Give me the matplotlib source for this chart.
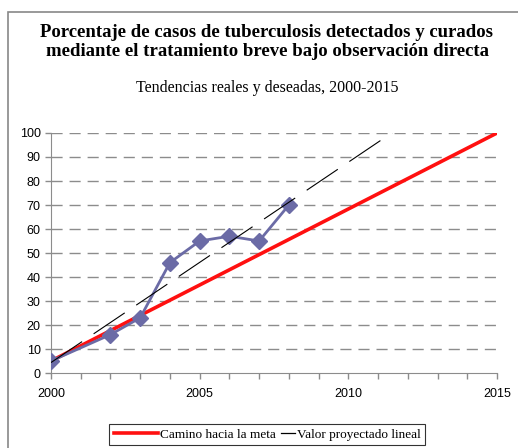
import numpy as np
import matplotlib.pyplot as plt
from matplotlib.patches import Rectangle
from matplotlib.ticker import MultipleLocator
from matplotlib.legend_handler import HandlerLine2D

plt.rcParams['lines.scale_dashes'] = False

years = [2000, 2002, 2003, 2004, 2005, 2006, 2007, 2008]
detected = [5, 16, 23, 46, 55, 57, 55, 70]
goal_years = [2000, 2015]
goal = [5, 100]

# linear projection fitted to the observed values
slope, icpt = np.polyfit(years, detected, 1)
proj_x = np.array([2000, 2015])
proj_y = slope * proj_x + icpt


class ShortLine(HandlerLine2D):
    # short legend sample, right-aligned in the handle box
    def create_artists(self, legend, orig_handle, xdescent, ydescent, width, height, fontsize, trans):
        short = width * 0.33
        return super().create_artists(legend, orig_handle, xdescent - (width - short), ydescent,
                                      short, height, fontsize, trans)


fig = plt.figure(figsize=(5.18, 4.48), dpi=100)
fig.patches.append(Rectangle((8 / 518, -0.1), 1.2, 1 - 12 / 448 + 0.1, transform=fig.transFigure,
                             fill=False, edgecolor='#888888', linewidth=1.2))

ax = fig.add_axes([51 / 518, 1 - 373 / 448, 446 / 518, 240 / 448])

for v in range(10, 101, 10):
    ax.axhline(v, color='#8c8c8c', linewidth=1.0, dashes=(8, 5), zorder=1)

ax.plot(goal_years, goal, color='#ff1010', linewidth=2.6, zorder=2)
ax.plot(years, detected, color='#6b6ba6', linewidth=2, marker='D', markersize=8.5, zorder=3)
ax.plot(proj_x, proj_y, color='black', linewidth=0.8, dashes=(27, 10), zorder=4)

ax.set_xlim(2000, 2015)
ax.set_ylim(0, 100)
ax.set_xticks([2000, 2005, 2010, 2015])
ax.xaxis.set_minor_locator(MultipleLocator(1))
ax.set_yticks(range(0, 101, 10))
for s in ['top', 'right']:
    ax.spines[s].set_visible(False)
for s in ['left', 'bottom']:
    ax.spines[s].set_color('#8c8c8c')
ax.tick_params(axis='both', which='both', color='#8c8c8c', labelsize=9,
               labelcolor='black', length=4, width=1)
ax.tick_params(axis='x', which='major', pad=7)
for lab in ax.get_xticklabels() + ax.get_yticklabels():
    lab.set_family('Liberation Sans')

fig.text(267 / 518, 1 - 42 / 448, 'Porcentaje de casos de tuberculosis detectados y curados\n'
         'mediante el tratamiento breve bajo observación directa',
         ha='center', va='center', family='Liberation Serif', fontweight='bold',
         fontsize=13.5, linespacing=1.15)
fig.text(267 / 518, 1 - 88 / 448, 'Tendencias reales y deseadas, 2000-2015',
         ha='center', va='center', family='Liberation Serif', fontsize=11.5)

red_h = plt.Line2D([], [], color='#ff1010', linewidth=2.6)
black_h = plt.Line2D([], [], color='black', linewidth=0.9)
leg = fig.legend([red_h, black_h], ['Camino hacia la meta', 'Valor proyectado lineal'],
                 loc='upper center', bbox_to_anchor=(267 / 518, 1 - 424 / 448), ncol=2,
                 frameon=True, fancybox=False, edgecolor='black', handlelength=3.4,
                 handletextpad=0.1, columnspacing=-1.9, borderpad=0.35, borderaxespad=0,
                 handler_map={black_h: ShortLine()},
                 prop={'family': 'Liberation Serif', 'size': 9.5})
leg.get_frame().set_linewidth(0.8)

fig.savefig('out.png', dpi=100)
